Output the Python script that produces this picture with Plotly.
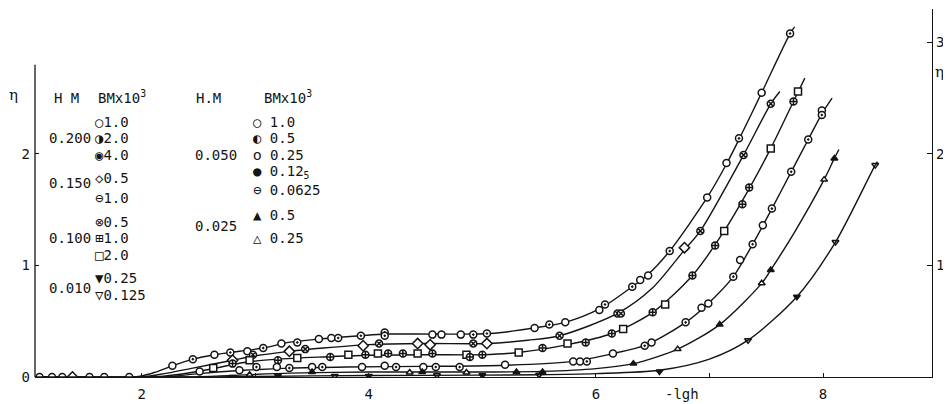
import plotly.graph_objects as go

# ---------------- data ----------------
# curve lines (x = -lg h, y = eta)
c1_x = [1.06, 1.9, 2.0, 2.11, 2.27, 2.45, 2.64, 2.78, 3.07, 3.29, 3.56, 3.93, 4.14, 4.6, 5.07, 5.46, 5.73, 6.03, 6.32, 6.46, 6.65, 6.98, 7.15, 7.26, 7.46, 7.71, 7.75]
c1_y = [0.0, 0.0, 0.01, 0.04, 0.10, 0.16, 0.20, 0.22, 0.26, 0.31, 0.34, 0.37, 0.385, 0.385, 0.39, 0.44, 0.49, 0.61, 0.81, 0.92, 1.13, 1.61, 1.91, 2.13, 2.55, 3.08, 3.14]

c2_x = [1.06, 2.0, 2.2, 2.45, 2.8, 3.0, 3.3, 3.6, 4.0, 4.5, 5.05, 5.4, 5.68, 6.19, 6.5, 6.78, 6.92, 7.30, 7.54, 7.62]
c2_y = [0.0, 0.0, 0.03, 0.08, 0.15, 0.19, 0.23, 0.26, 0.29, 0.30, 0.30, 0.33, 0.37, 0.57, 0.80, 1.14, 1.31, 1.99, 2.45, 2.56]

c3_x = [1.06, 2.1, 2.3, 2.6, 2.9, 3.2, 3.6, 4.0, 4.5, 5.0, 5.32, 5.75, 6.14, 6.50, 6.85, 7.13, 7.35, 7.54, 7.74, 7.84]
c3_y = [0.0, 0.0, 0.02, 0.07, 0.13, 0.16, 0.18, 0.195, 0.20, 0.20, 0.22, 0.29, 0.39, 0.58, 0.91, 1.31, 1.69, 2.05, 2.47, 2.68]

c4_x = [1.06, 2.2, 2.5, 2.9, 3.3, 3.8, 4.5, 5.2, 5.8, 6.15, 6.45, 6.79, 6.99, 7.21, 7.38, 7.55, 7.72, 7.87, 7.99, 8.08]
c4_y = [0.0, 0.0, 0.03, 0.06, 0.08, 0.09, 0.095, 0.105, 0.14, 0.21, 0.29, 0.49, 0.66, 0.90, 1.19, 1.51, 1.84, 2.13, 2.36, 2.50]

c5_x = [1.06, 2.4, 2.8, 3.3, 4.0, 5.0, 5.53, 6.0, 6.33, 6.72, 7.09, 7.46, 7.54, 7.75, 8.01, 8.10, 8.14]
c5_y = [0.0, 0.0, 0.015, 0.035, 0.045, 0.045, 0.05, 0.075, 0.12, 0.25, 0.47, 0.84, 0.96, 1.30, 1.77, 1.96, 2.04]

c6_x = [1.06, 2.6, 3.5, 4.5, 5.5, 6.0, 6.56, 7.0, 7.34, 7.77, 8.11, 8.46, 8.48]
c6_y = [0.0, 0.0, 0.01, 0.015, 0.02, 0.03, 0.06, 0.16, 0.33, 0.72, 1.21, 1.90, 1.93]

# measured points
p1_open_x = [1.10, 1.21, 1.30, 1.54, 1.67, 1.89, 2.27, 2.64, 2.93, 3.23, 3.56, 3.67, 4.56, 4.64, 4.81, 5.46, 5.73, 6.03, 6.39, 6.46, 6.98, 7.15, 7.46]
p1_open_y = [0.0, 0.0, 0.0, 0.0, 0.0, 0.0, 0.10, 0.20, 0.23, 0.30, 0.34, 0.35, 0.38, 0.38, 0.38, 0.44, 0.49, 0.60, 0.87, 0.91, 1.61, 1.92, 2.55]
p1_dot_x = [2.45, 2.78, 3.07, 3.37, 3.73, 3.93, 4.14, 4.14, 4.92, 5.04, 5.59, 6.08, 6.32, 6.65, 7.26, 7.71]
p1_dot_y = [0.16, 0.22, 0.26, 0.31, 0.35, 0.37, 0.40, 0.37, 0.38, 0.39, 0.47, 0.65, 0.81, 1.13, 2.14, 3.08]

p2_dia_x = [1.39, 2.80, 3.30, 3.95, 4.43, 4.54, 5.04, 6.78]
p2_dia_y = [0.0, 0.15, 0.23, 0.28, 0.30, 0.29, 0.30, 1.16]
p2_dot_x = [2.98, 3.44, 4.09, 4.92, 5.68, 6.19, 6.22, 6.92, 7.30, 7.54]
p2_dot_y = [0.20, 0.25, 0.30, 0.30, 0.37, 0.57, 0.57, 1.31, 1.99, 2.45]

p3_sq_x = [2.63, 2.95, 3.37, 3.82, 4.08, 4.43, 4.86, 5.32, 5.75, 6.24, 6.61, 7.13, 7.54, 7.78]
p3_sq_y = [0.08, 0.15, 0.17, 0.20, 0.21, 0.21, 0.20, 0.22, 0.30, 0.43, 0.65, 1.31, 2.05, 2.56]
p3_dot_x = [2.80, 3.20, 3.66, 3.97, 4.17, 4.30, 4.56, 4.89, 5.00, 5.53, 5.91, 6.14, 6.50, 6.85, 7.05, 7.29, 7.35, 7.74]
p3_dot_y = [0.12, 0.15, 0.18, 0.20, 0.21, 0.21, 0.21, 0.18, 0.20, 0.26, 0.31, 0.39, 0.58, 0.91, 1.18, 1.55, 1.70, 2.47]

p4_open_x = [2.51, 2.86, 3.19, 3.50, 3.94, 4.14, 4.48, 5.20, 5.80, 5.86, 6.15, 6.49, 6.93, 6.99, 7.27, 7.47, 7.99]
p4_open_y = [0.05, 0.06, 0.09, 0.09, 0.09, 0.10, 0.09, 0.11, 0.14, 0.14, 0.21, 0.31, 0.62, 0.66, 1.05, 1.36, 2.39]
p4_cross_x = [3.01, 3.30, 3.59, 4.24, 4.59, 4.80, 5.92, 6.43, 6.79, 7.21, 7.38, 7.55, 7.72, 7.87, 7.99]
p4_cross_y = [0.09, 0.08, 0.09, 0.09, 0.09, 0.09, 0.14, 0.28, 0.49, 0.90, 1.19, 1.51, 1.84, 2.13, 2.35]

p5_full_x = [3.50, 4.47, 5.30, 5.53, 6.33, 7.09, 7.54, 8.10]
p5_full_y = [0.045, 0.045, 0.045, 0.045, 0.12, 0.47, 0.96, 1.96]
p5_open_x = [2.95, 4.36, 4.86, 6.72, 7.46, 8.01]
p5_open_y = [0.02, 0.04, 0.04, 0.25, 0.84, 1.77]

p6_full_x = [3.20, 4.00, 5.00, 6.56, 7.77]
p6_full_y = [0.01, 0.01, 0.015, 0.05, 0.72]
p6_open_x = [2.80, 3.70, 4.60, 5.50, 7.34, 8.11, 8.46]
p6_open_y = [0.0, 0.01, 0.015, 0.02, 0.33, 1.21, 1.90]

x_ticks = [2, 4, 6, 8]
y_left_ticks = [0, 1, 2]
y_right_ticks = [1, 2, 3]

# legend text (symbol + BM value, H.M label)
legend_left = [
    ("○1.0", None), ("◑2.0", "0.200"), ("◉4.0", None),
    ("◇0.5", "0.150"), ("⊖1.0", None),
    ("⊗0.5", None), ("⊞1.0", "0.100"), ("□2.0", None),
    ("▼0.25", None), ("▽0.125", "0.010"),
]
legend_right = [
    ("○ 1.0", None), ("◐ 0.5", None), ("ᴏ 0.25", "0.050"),
    ("● 0.12<sub>5</sub>", None), ("⊖ 0.0625", None),
    ("▲ 0.5", None), ("△ 0.25", "0.025"),
]

# ---------------- figure ----------------
OFF = 8                      # page body margin in the browser
W, H = 951 - OFF, 404 - OFF
ML = 35 - OFF
MT = 9 - OFF
MR = W - (932 - OFF)
MB = H - (377 - OFF)
X_RANGE = [1.06, 8.96]
Y_RANGE = [0, 3.3]
INK = "#141414"

fig = go.Figure()

for cx, cy in [(c1_x, c1_y), (c2_x, c2_y), (c3_x, c3_y), (c4_x, c4_y), (c5_x, c5_y)]:
    fig.add_trace(go.Scatter(x=cx, y=cy, mode="lines",
                             line=dict(color=INK, width=1.4, shape="spline", smoothing=0.8),
                             hoverinfo="skip", showlegend=False))
fig.add_trace(go.Scatter(x=c6_x, y=c6_y, mode="lines", yaxis="y2",
                         line=dict(color=INK, width=1.4, shape="spline", smoothing=0.8),
                         hoverinfo="skip", showlegend=False))

def pts(x, y, symbol, fill="white", size=7):
    fig.add_trace(go.Scatter(x=x, y=y, mode="markers", showlegend=False, hoverinfo="skip",
                             marker=dict(symbol=symbol, size=size, color=fill,
                                         line=dict(color=INK, width=1.5))))

pts(p1_open_x, p1_open_y, "circle")
pts(p1_dot_x, p1_dot_y, "circle-dot")
pts(p2_dia_x, p2_dia_y, "diamond", size=8)
pts(p2_dot_x, p2_dot_y, "circle-x")
pts(p3_sq_x, p3_sq_y, "square")
pts(p3_dot_x, p3_dot_y, "circle-cross")
pts(p4_open_x, p4_open_y, "circle")
pts(p4_cross_x, p4_cross_y, "circle-dot")
pts(p5_full_x, p5_full_y, "triangle-up", fill=INK, size=6)
pts(p5_open_x, p5_open_y, "triangle-up", size=6)
pts(p6_full_x, p6_full_y, "triangle-down", fill=INK, size=6)
pts(p6_open_x, p6_open_y, "triangle-down", size=6)

def px2paper(px, py):
    # reference-picture pixel -> paper coordinates
    px, py = px - OFF, py - OFF
    return (px - ML) / (W - ML - MR), (H - MB - py) / (H - MT - MB)

font = dict(family="DejaVu Sans Mono, DejaVu Sans", size=14, color=INK)
sym_font = dict(family="DejaVu Sans Mono, DejaVu Sans", size=14, color=INK)

ann = []
def text(px, py, s, anchor="left", f=font):
    x, y = px2paper(px, py)
    ann.append(dict(x=x, y=y, xref="paper", yref="paper", text=s, showarrow=False,
                    xanchor=anchor, yanchor="middle", font=f))

# headers
text(52, 98, "H M")
text(96, 97, "BMx10<sup>3</sup>")
text(194, 98, "H.M")
text(262, 97, "BMx10<sup>3</sup>")
# left block rows
left_y = [122, 138, 155, 178, 198, 222, 238, 255, 278, 295]
left_hm_y = {"0.200": 138, "0.150": 183, "0.100": 238, "0.010": 288}
for (lab, hm), yy in zip(legend_left, left_y):
    text(93, yy, lab, f=sym_font)
    if hm:
        text(93, left_hm_y[hm], hm, anchor="right")
right_y = [122, 138, 155, 172, 190, 215, 238]
right_hm_y = {"0.050": 155, "0.025": 226}
for (lab, hm), yy in zip(legend_right, right_y):
    text(251, yy, lab, f=sym_font)
    if hm:
        text(193, right_hm_y[hm], hm)

# axis labels
text(13, 95, "η", anchor="center", f=dict(family="DejaVu Serif", size=15, color=INK))
text(940, 72, "η", anchor="center", f=dict(family="DejaVu Serif", size=15, color=INK))
text(682, 394, "-lgh", anchor="center", f=font)

fig.update_layout(
    width=W, height=H,
    margin=dict(l=ML, r=MR, t=MT, b=MB, autoexpand=False),
    paper_bgcolor="white", plot_bgcolor="white",
    showlegend=False,
    annotations=ann,
    xaxis=dict(range=X_RANGE, showgrid=False, zeroline=False, showline=True,
               linecolor=INK, linewidth=1.3, ticks="inside", ticklen=4, tickcolor=INK,
               tickvals=x_ticks, tickfont=font, automargin=False, ticklabelstandoff=4,
               minor=dict(dtick=1, ticks="inside", ticklen=4, tickcolor=INK, showgrid=False)),
    yaxis=dict(range=Y_RANGE, showgrid=False, zeroline=False, showline=False,
               ticks="inside", ticklen=4, tickcolor=INK, tickvals=y_left_ticks,
               tickfont=font, automargin=False, ticklabelstandoff=4),
    yaxis2=dict(range=Y_RANGE, overlaying="y", side="right", showgrid=False, zeroline=False,
                showline=True, linecolor=INK, linewidth=1.3, ticks="inside", ticklen=5,
                tickcolor=INK, tickvals=y_right_ticks, tickfont=font, automargin=False),
    shapes=[dict(type="line", xref="paper", yref="y", x0=0, x1=0, y0=0, y1=2.8,
                 line=dict(color=INK, width=1.3))],
)

fig.write_html("out.html")
